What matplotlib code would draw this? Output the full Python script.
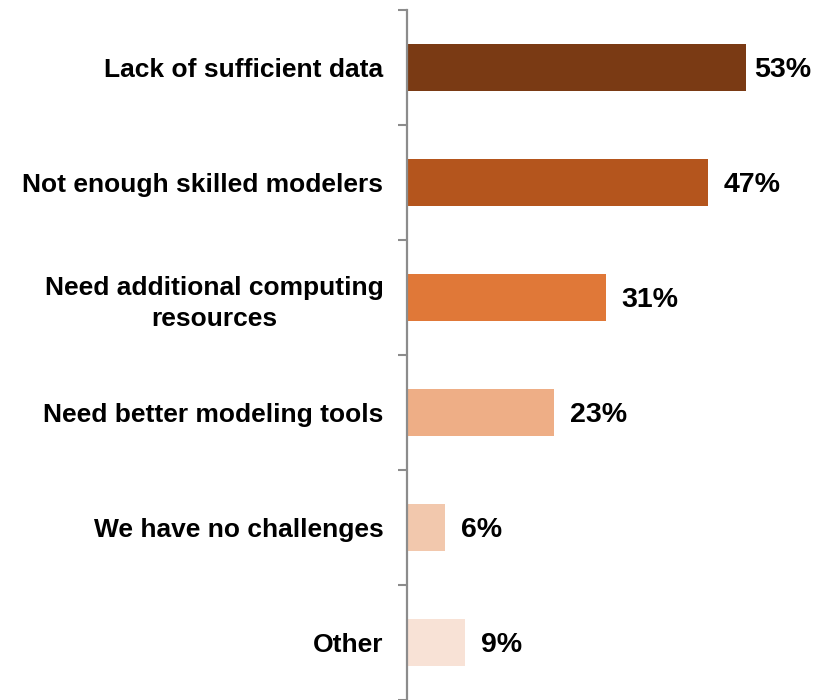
import matplotlib
matplotlib.use("Agg")
import matplotlib.pyplot as plt
import numpy as np

categories = [
    "Lack of sufficient data",
    "Not enough skilled modelers",
    "Need additional computing\nresources",
    "Need better modeling tools",
    "We have no challenges",
    "Other",
]
values = [53, 47, 31, 23, 6, 9]
bar_colors = ["#7A3A14", "#B4551D", "#E07838", "#EEAE86", "#F2C8AD", "#F8E2D6"]

plt.rcParams["font.family"] = ["Liberation Sans", "DejaVu Sans"]

fig = plt.figure(figsize=(8.22, 7.0), dpi=100)
ax = fig.add_axes([407 / 822, 0.0, 415 / 822, 690 / 700])

y = np.arange(len(categories))
ax.barh(y, values, height=0.405, color=bar_colors, zorder=2)

ax.set_xlim(0, 64.8)
ax.set_ylim(len(categories) - 0.5, -0.5)

for spine in ["top", "right", "bottom"]:
    ax.spines[spine].set_visible(False)
ax.spines["left"].set_color("#8C8C8C")
ax.spines["left"].set_linewidth(1.6)
ax.set_xticks([])

ax.set_yticks(y)
ax.set_yticklabels(categories, fontsize=19, fontweight="bold",
                   multialignment="center", linespacing=1.38)
ax.tick_params(axis="y", which="major", length=0, pad=17)
ax.set_yticks(np.arange(-0.5, len(categories), 1.0), minor=True)
ax.tick_params(axis="y", which="minor", length=6.5, width=1.5, color="#8C8C8C", direction="out")

px_per_unit = 415 / 64.8
for i, v in enumerate(values):
    gap_px = 8 if i == 0 else 16
    ax.text(v + gap_px / px_per_unit, i + 0.025, f"{v}%", va="center", ha="left",
            fontsize=20.5, fontweight="bold", color="black")

fig.savefig("out.png", dpi=100)
